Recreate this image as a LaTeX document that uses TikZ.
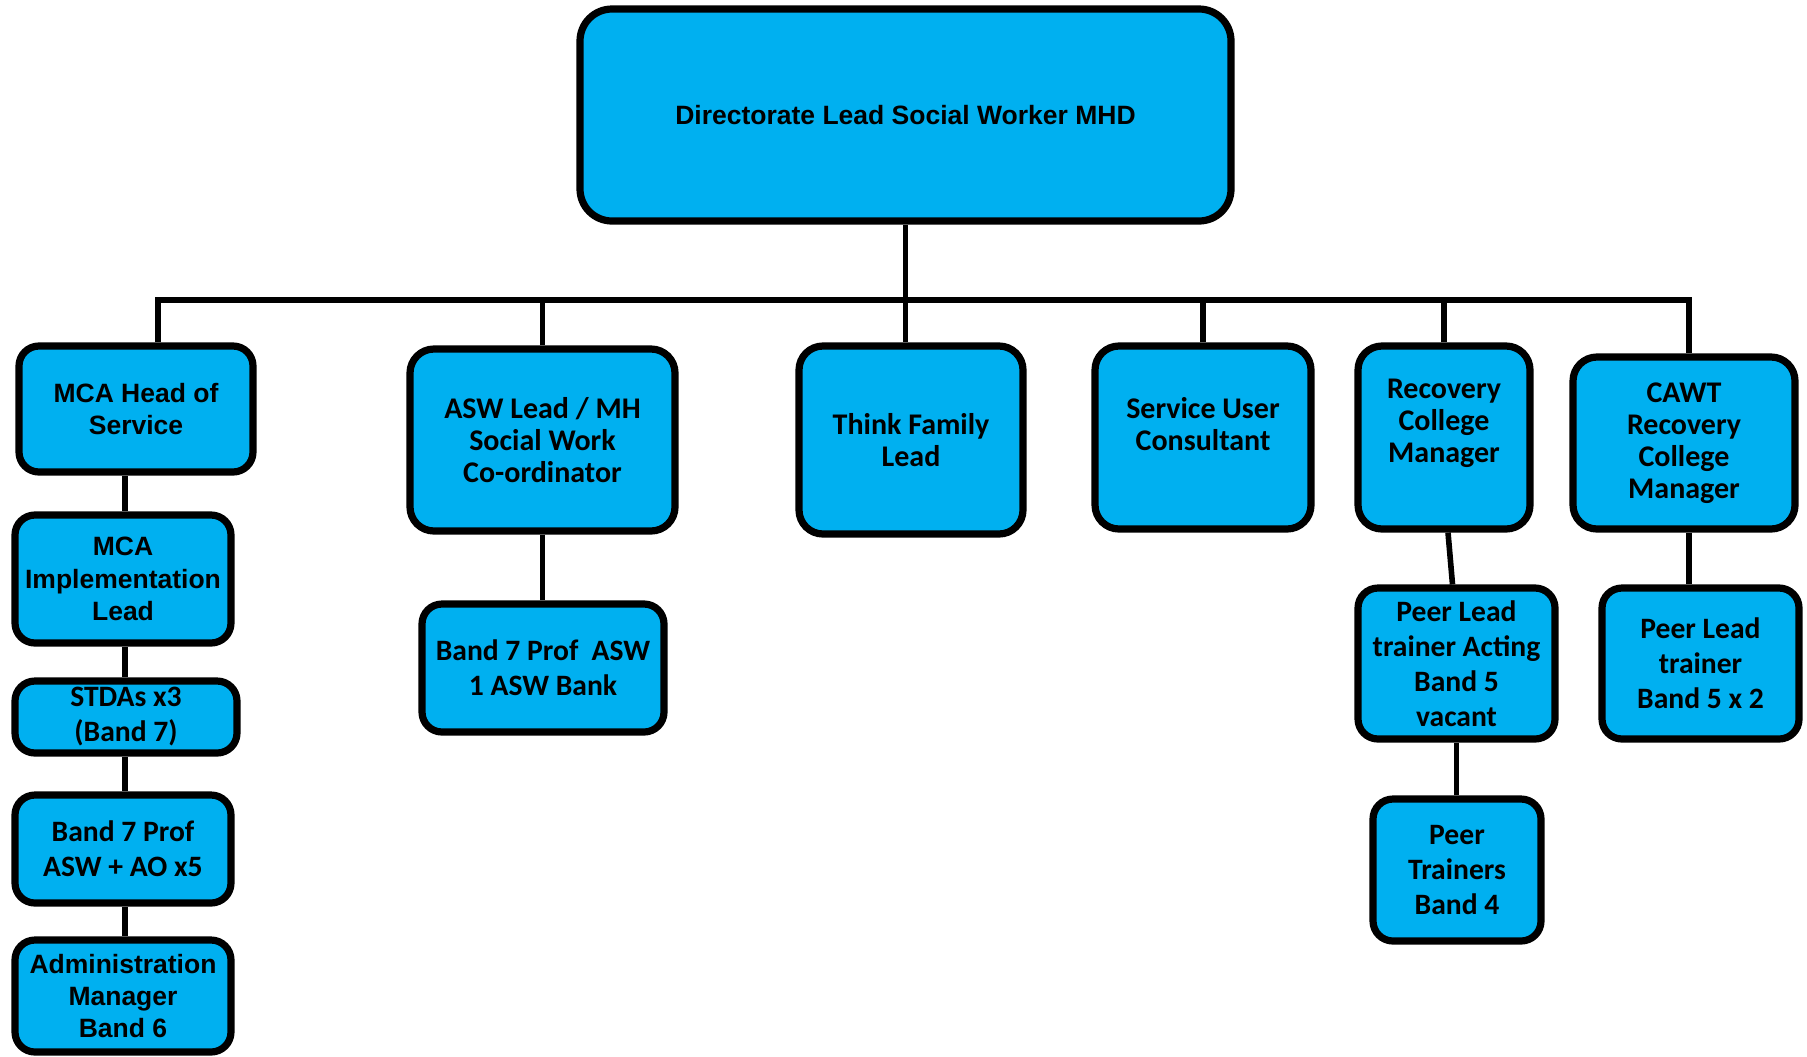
\documentclass[tikz,border=0pt]{standalone}
\usepackage{fontspec}
\setmainfont{Liberation Sans}
\newfontfamily\calibri{Carlito}
\definecolor{boxblue}{HTML}{00B0F0}
\tikzset{
  box/.style={draw, line width=3.6pt, fill=boxblue, rounded corners=10pt,
    align=center, inner sep=0pt},
  arialtxt/.style={font=\bfseries\fontsize{13.25}{16.1}\selectfont},
  caltxt/.style={font=\calibri\bfseries\fontsize{15}{16}\selectfont},
  calwide/.style={font=\calibri\bfseries\fontsize{14.8}{17.5}\selectfont},
  link/.style={line width=2.8pt}
}
\begin{document}
\begin{tikzpicture}[x=0.5pt, y=-0.5pt]
  \useasboundingbox (0,0) rectangle (1807,1056);
  % top of the chart
  \node[box, arialtxt, rounded corners=16pt, minimum width=325.5pt, minimum height=106pt]
    (top) at (905.5,115) {Directorate Lead Social Worker MHD};
  % first level
  \node[box, arialtxt, minimum width=117pt, minimum height=63pt]
    (mca) at (136,409) {MCA Head of\\Service};
  \node[box, caltxt, rounded corners=12pt, minimum width=132.5pt, minimum height=91pt]
    (asw) at (542.5,440) {ASW Lead / MH\\Social Work\\Co-ordinator};
  \node[box, caltxt, rounded corners=12pt, font=\calibri\bfseries\fontsize{15}{15.6}\selectfont,
    minimum width=112pt, minimum height=94pt]
    (tf) at (911,440) {Think Family\\Lead};
  \node[box, caltxt, rounded corners=12pt, minimum width=108pt, minimum height=91.5pt]
    (suc) at (1203,437.5) {Service User\\Consultant\\[-2pt]};
  \node[box, caltxt, rounded corners=12pt, font=\calibri\bfseries\fontsize{15}{15.8}\selectfont,
    minimum width=86pt, minimum height=91.5pt]
    (rcm) at (1444,437.5) {Recovery\\College\\Manager\\[1pt]};
  \node[box, caltxt, rounded corners=12pt, minimum width=111pt, minimum height=86pt]
    (cawt) at (1684,443) {CAWT\\Recovery\\College\\Manager};
  % MCA column
  \node[box, arialtxt, minimum width=108pt, minimum height=64pt]
    (mcaimp) at (123,579) {MCA\\Implementation\\Lead};
  \node[box, calwide, minimum width=111pt, minimum height=36pt]
    (stda) at (126,717) {STDAs x3\\(Band 7)};
  \node[box, calwide, minimum width=108pt, minimum height=54pt]
    (bandao) at (123,849) {Band 7 Prof\\ASW + AO x5};
  \node[box, arialtxt, minimum width=108pt, minimum height=56pt]
    (admin) at (123,996) {Administration\\Manager\\Band 6};
  % other children
  \node[box, calwide, minimum width=121pt, minimum height=64pt]
    (aswbank) at (543,668) {Band 7 Prof~ ASW\\1 ASW Bank};
  \node[box, calwide, minimum width=98.5pt, minimum height=75.5pt]
    (peeract) at (1456.5,663.5) {Peer Lead\\trainer Acting\\Band 5\\vacant};
  \node[box, calwide, minimum width=84pt, minimum height=71pt]
    (peertr) at (1457,870) {Peer\\Trainers\\Band 4};
  \node[box, calwide, minimum width=98.5pt, minimum height=75.5pt]
    (cawtpeer) at (1700.5,663.5) {Peer Lead\\trainer\\Band 5 x 2};
  % connectors
  \coordinate (barL) at (158,300);
  \coordinate (barR) at (1689,300);
  \coordinate (col) at (125,0);
  \draw[link] (barL |- mca.north) -- (barL) -- (barR) -- (barR |- cawt.north);
  \draw[link] (top.south) -- (top.south |- tf.north);
  \draw[link] (asw.north) -- (asw.north |- barL);
  \draw[link] (suc.north) -- (suc.north |- barL);
  \draw[link] (rcm.north) -- (rcm.north |- barL);
  \draw[link] (mca.south -| col) -- (mcaimp.north -| col);
  \draw[link] (mcaimp.south -| col) -- (stda.north -| col);
  \draw[link] (stda.south -| col) -- (bandao.north -| col);
  \draw[link] (bandao.south -| col) -- (admin.north -| col);
  \draw[link] (asw.south) -- (asw.south |- aswbank.north);
  \draw[link] ([xshift=2pt]rcm.south) -- ([xshift=-2pt]peeract.north);
  \draw[link] (peeract.south) -- (peeract.south |- peertr.north);
  \draw[link] (cawt.south -| barR) -- (cawtpeer.north -| barR);
\end{tikzpicture}
\end{document}
